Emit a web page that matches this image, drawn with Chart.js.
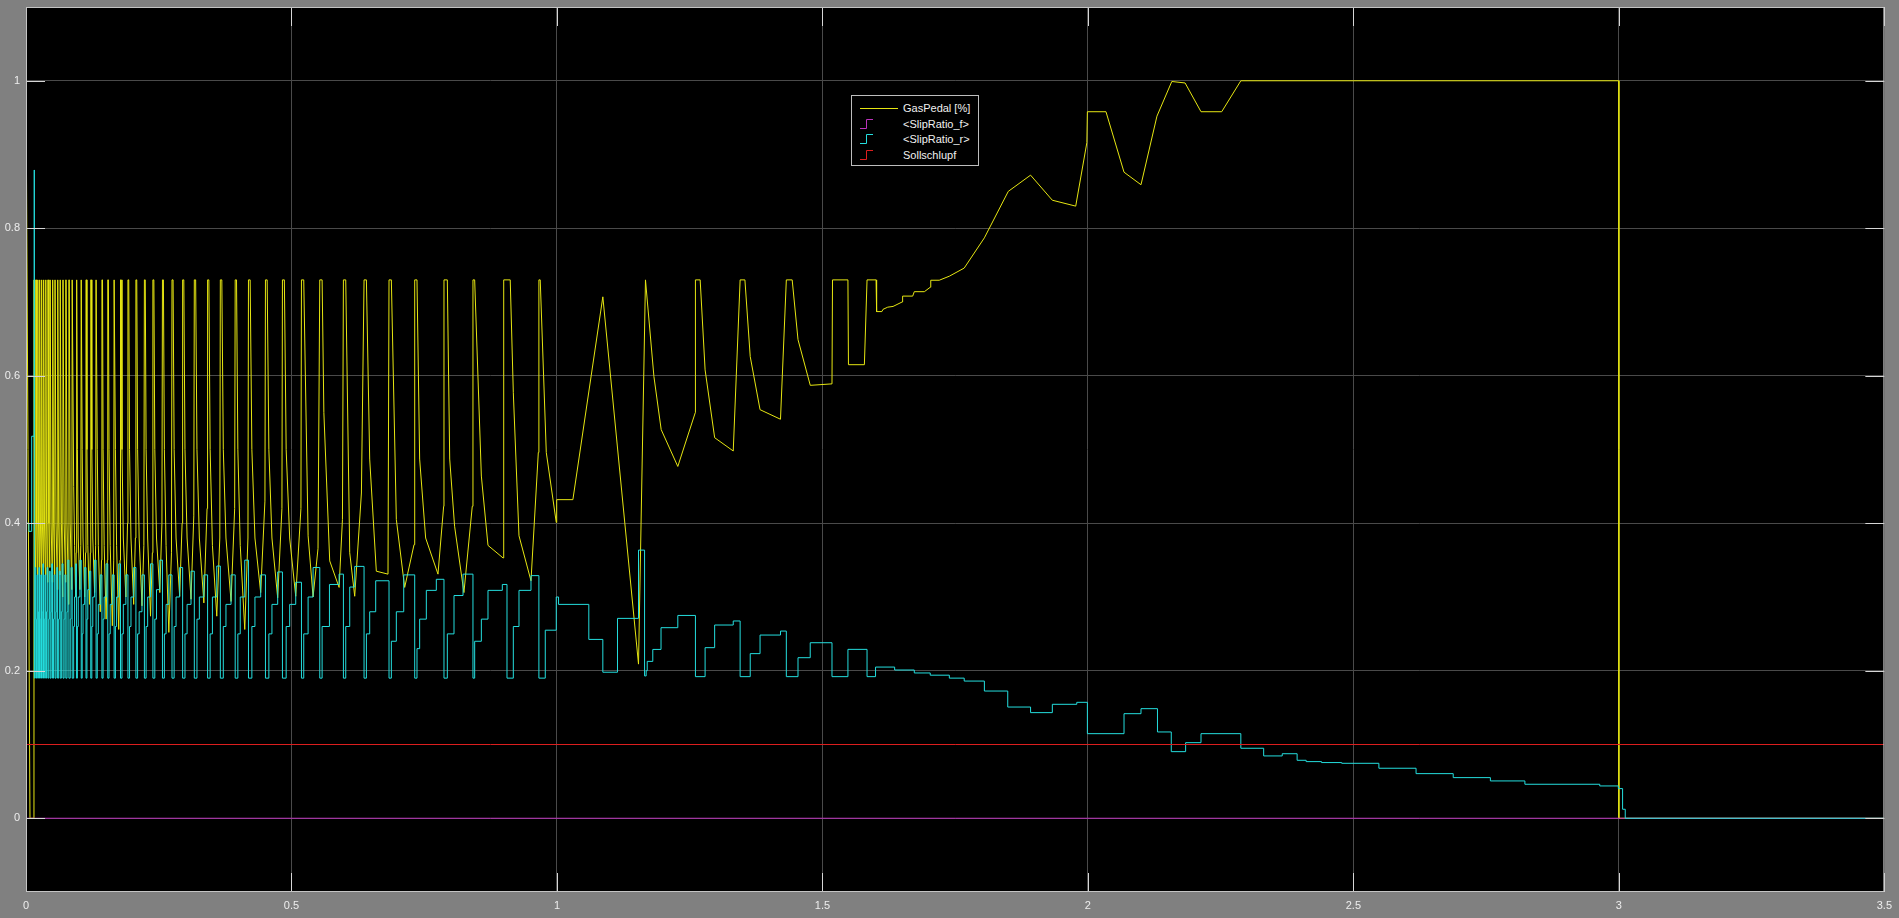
<!DOCTYPE html>
<html>
<head>
<meta charset="utf-8">
<title>Scope - GasPedal / SlipRatio</title>
<script src="https://cdn.jsdelivr.net/npm/chart.js@4.4.1/dist/chart.umd.min.js"></script>
<style>
  html, body { margin: 0; padding: 0; background: #808080; overflow: hidden; }
  #wrap { position: relative; width: 1899px; height: 918px; }
  #scopeChart { display: block; }
  #legend {
    position: absolute; left: 851px; top: 95px; width: 126px; height: 69px;
    background: #000; border: 1px solid #bdbdbd;
    font-family: "Liberation Sans", Arial, sans-serif; font-size: 11px; color: #f0f0f0;
  }
  #legend .row { position: absolute; left: 0; width: 126px; height: 14px; line-height: 14px; }
  #legend .row svg { position: absolute; left: 8px; top: 1px; }
  #legend .row span { position: absolute; left: 51px; top: 0; white-space: nowrap; }
</style>
</head>
<body>
<div id="wrap">
  <canvas id="scopeChart" width="1899" height="918"></canvas>
  <div id="legend"></div>
</div>
<script>
// achsen
const xTicks = [0, 0.5, 1, 1.5, 2, 2.5, 3, 3.5];
const yTicks = [0, 0.2, 0.4, 0.6, 0.8, 1];

const seriesNames  = ['GasPedal [%]', '<SlipRatio_f>', '<SlipRatio_r>', 'Sollschlupf'];
const seriesColors = ['#e6e612', '#bb33bb', '#24dede', '#dc1e1e'];

// GasPedal [t, wert]
const gasPedal = [
  [0,1],[0.0075,0],[0.0150,0],
  [0.0152,0.73],[0.0158,0.73],[0.0168,0.40],[0.0180,0.34],
  [0.0185,0.73],[0.0191,0.73],[0.0201,0.40],[0.0215,0.33],
  [0.0220,0.73],[0.0226,0.73],[0.0236,0.40],[0.0250,0.34],
  [0.0255,0.73],[0.0261,0.73],[0.0272,0.40],[0.0287,0.33],
  [0.0292,0.73],[0.0298,0.73],[0.0309,0.40],[0.0325,0.34],
  [0.0330,0.73],[0.0336,0.73],[0.0348,0.40],[0.0365,0.33],
  [0.0370,0.73],[0.0376,0.73],[0.0388,0.40],[0.0406,0.32],
  [0.0412,0.73],[0.0418,0.73],[0.0431,0.40],[0.0449,0.34],
  [0.0455,0.73],[0.0461,0.73],[0.0474,0.40],[0.0494,0.32],
  [0.0500,0.73],[0.0506,0.73],[0.0520,0.40],[0.0541,0.33],
  [0.0547,0.73],[0.0553,0.73],[0.0567,0.40],[0.0589,0.31],
  [0.0595,0.73],[0.0601,0.73],[0.0616,0.40],[0.0639,0.33],
  [0.0645,0.73],[0.0651,0.73],[0.0667,0.40],[0.0691,0.30],
  [0.0697,0.73],[0.0703,0.73],[0.0719,0.40],[0.0744,0.32],
  [0.0750,0.73],[0.0756,0.73],[0.0773,0.40],[0.0801,0.29],
  [0.0808,0.73],[0.0815,0.73],[0.0832,0.40],[0.0863,0.31],
  [0.0870,0.73],[0.0878,0.73],[0.0898,0.45],[0.0915,0.37],[0.0935,0.30],[0.0945,0.36],
  [0.095,0.73],[0.0959,0.73],[0.0968,0.5],[0.0984,0.38],[0.1015,0.31],[0.1032,0.37],
  [0.104,0.73],[0.1049,0.73],[0.1058,0.5],[0.1074,0.38],[0.1105,0.30],[0.1122,0.36],
  [0.113,0.73],[0.1139,0.73],[0.1148,0.5],[0.1164,0.37],[0.1195,0.29],[0.1212,0.36],
  [0.122,0.73],[0.123,0.73],[0.124,0.5],[0.1258,0.38],[0.1292,0.306],[0.1312,0.37],
  [0.132,0.73],[0.1331,0.73],[0.1342,0.5],[0.1362,0.37],[0.1399,0.28],[0.1422,0.35],
  [0.143,0.73],[0.1441,0.73],[0.1452,0.5],[0.1472,0.37],[0.1509,0.27],[0.1532,0.35],
  [0.154,0.73],[0.1552,0.73],[0.1564,0.5],[0.1586,0.37],[0.1626,0.261],[0.1652,0.35],
  [0.166,0.73],[0.1672,0.73],[0.1684,0.5],[0.1706,0.37],[0.1746,0.256],[0.1772,0.35],
  [0.178,0.73],[0.1794,0.73],[0.1808,0.5],[0.1833,0.38],[0.1881,0.30],[0.1912,0.40],
  [0.192,0.73],[0.1935,0.73],[0.1950,0.5],[0.1977,0.38],[0.2028,0.29],[0.2060,0.38],
  [0.207,0.73],[0.2086,0.73],[0.2102,0.5],[0.2131,0.38],[0.2185,0.288],[0.2220,0.37],
  [0.223,0.73],[0.2246,0.73],[0.2262,0.5],[0.2291,0.38],[0.2345,0.274],[0.2380,0.36],
  [0.239,0.73],[0.2408,0.73],[0.2426,0.5],[0.2458,0.38],[0.2520,0.306],[0.2560,0.40],
  [0.257,0.73],[0.2588,0.73],[0.2606,0.5],[0.2638,0.37],[0.2690,0.252],[0.2740,0.36],
  [0.275,0.73],[0.2770,0.73],[0.2790,0.5],[0.2826,0.38],[0.2894,0.301],[0.2940,0.40],
  [0.295,0.73],[0.2972,0.73],[0.2994,0.5],[0.3034,0.38],[0.3108,0.297],[0.3160,0.41],
  [0.317,0.73],[0.3195,0.73],[0.3220,0.5],[0.3265,0.38],[0.3350,0.292],[0.3410,0.42],
  [0.342,0.73],[0.3444,0.73],[0.3468,0.5],[0.3511,0.37],[0.3593,0.274],[0.3650,0.38],
  [0.366,0.73],[0.3688,0.73],[0.3716,0.5],[0.3766,0.38],[0.3862,0.294],[0.3930,0.42],
  [0.394,0.73],[0.3965,0.73],[0.3990,0.5],[0.4035,0.37],[0.4120,0.256],[0.4180,0.38],
  [0.419,0.73],[0.4222,0.73],[0.4254,0.5],[0.4312,0.38],[0.4420,0.306],[0.4500,0.43],
  [0.451,0.73],[0.4542,0.73],[0.4574,0.5],[0.4632,0.38],[0.4740,0.299],[0.4820,0.42],
  [0.483,0.73],[0.4866,0.73],[0.4900,0.5],[0.4966,0.38],[0.5080,0.301],[0.5178,0.42],
  [0.5188,0.73],[0.5231,0.73],[0.5313,0.383],[0.5407,0.30],[0.5500,0.366],
  [0.5533,0.73],[0.5577,0.73],[0.5610,0.55],[0.5720,0.349],[0.5897,0.313],[0.5960,0.405],
  [0.5978,0.73],[0.6022,0.73],[0.6097,0.360],[0.6191,0.301],[0.6317,0.441],
  [0.6367,0.73],[0.6411,0.73],[0.6473,0.487],[0.6598,0.335],[0.6818,0.331],
  [0.6837,0.73],[0.6881,0.73],[0.6975,0.405],[0.7132,0.313],[0.7308,0.371],
  [0.7321,0.73],[0.7364,0.73],[0.7414,0.487],[0.7527,0.380],[0.7759,0.331],[0.7866,0.423],
  [0.7872,0.73],[0.7935,0.73],[0.7980,0.487],[0.8072,0.396],[0.8248,0.306],[0.8405,0.423],
  [0.8418,0.73],[0.8450,0.73],[0.8576,0.464],[0.8701,0.370],[0.8984,0.353],
  [0.8997,0.73],[0.9120,0.73],[0.9178,0.577],[0.9285,0.383],[0.9511,0.322],[0.9649,0.496],
  [0.9660,0.73],[0.9685,0.73],[0.9799,0.496],[0.9987,0.401],[0.9995,0.432],[1.0300,0.432],
  [1.0864,0.707],[1.1536,0.209],[1.1667,0.73],[1.1826,0.599],[1.1963,0.527],[1.2276,0.477],[1.2605,0.550],
  [1.2608,0.73],[1.2697,0.73],[1.2790,0.608],[1.2970,0.516],[1.3320,0.498],
  [1.3450,0.73],[1.3540,0.73],[1.3640,0.626],[1.3825,0.554],[1.4210,0.541],
  [1.4320,0.73],[1.4430,0.73],[1.4540,0.649],[1.4771,0.587],[1.5180,0.589],
  [1.5190,0.73],[1.5480,0.73],[1.5490,0.615],[1.5790,0.615],
  [1.5840,0.73],[1.6010,0.73],[1.6020,0.687],[1.6120,0.687],[1.6140,0.690],[1.6230,0.693],
  [1.6330,0.694],[1.6500,0.700],[1.6510,0.708],[1.6700,0.708],[1.6730,0.714],[1.6920,0.714],
  [1.7030,0.720],[1.7040,0.7295],[1.7200,0.7295],[1.7390,0.735],[1.7670,0.746],[1.8050,0.787],
  [1.8500,0.850],[1.8920,0.872],[1.9330,0.838],[1.9770,0.830],[1.9980,0.916],[1.9990,0.958],
  [2.0340,0.958],[2.0680,0.876],[2.1000,0.859],[2.1300,0.952],[2.1580,0.999],[2.1830,0.997],
  [2.2130,0.958],[2.2520,0.958],[2.2880,1.0],[3.0,1.0],[3.0,0],[3.5,0]
];

// <SlipRatio_r> (treppe)
const slipRatioR = [
  [0,-0.3],[0.0003,0.40],[0.0055,0.389],[0.0107,0.518],[0.0155,0.879],
  [0.0157,0.19],[0.0166,0.27],[0.0174,0.34],
  [0.0185,0.19],[0.0199,0.27],[0.0208,0.33],
  [0.0220,0.19],[0.0234,0.28],[0.0243,0.34],
  [0.0255,0.19],[0.0270,0.27],[0.0279,0.33],
  [0.0292,0.19],[0.0307,0.28],[0.0317,0.345],
  [0.0330,0.19],[0.0346,0.27],[0.0356,0.33],
  [0.0370,0.19],[0.0387,0.28],[0.0397,0.34],
  [0.0412,0.19],[0.0429,0.27],[0.0440,0.335],
  [0.0455,0.19],[0.0473,0.28],[0.0484,0.345],
  [0.0500,0.19],[0.0519,0.27],[0.0531,0.33],
  [0.0547,0.19],[0.0566,0.28],[0.0578,0.34],
  [0.0595,0.19],[0.0615,0.27],[0.0628,0.335],
  [0.0645,0.19],[0.0666,0.28],[0.0679,0.345],
  [0.0697,0.19],[0.0718,0.27],[0.0731,0.33],
  [0.0750,0.19],[0.0773,0.28],[0.0788,0.35],
  [0.0808,0.19],[0.0833,0.27],[0.0848,0.34],
  [0.0870,0.19],[0.0898,0.26],[0.0915,0.30],[0.0935,0.345],
  [0.095,0.19],[0.0968,0.26],[0.0984,0.30],[0.1015,0.35],
  [0.104,0.19],[0.1058,0.25],[0.1074,0.29],[0.1105,0.34],
  [0.113,0.19],[0.1148,0.27],[0.1164,0.31],[0.1195,0.335],
  [0.122,0.19],[0.124,0.26],[0.1258,0.30],[0.1292,0.35],
  [0.132,0.19],[0.1342,0.25],[0.1362,0.29],[0.1399,0.33],
  [0.143,0.19],[0.1452,0.27],[0.1472,0.30],[0.1509,0.345],
  [0.154,0.19],[0.1564,0.25],[0.1586,0.29],[0.1626,0.33],
  [0.166,0.19],[0.1684,0.26],[0.1706,0.30],[0.1746,0.345],
  [0.178,0.19],[0.1808,0.25],[0.1833,0.29],[0.1881,0.33],
  [0.192,0.19],[0.195,0.26],[0.1977,0.30],[0.2028,0.34],
  [0.207,0.19],[0.2102,0.25],[0.2131,0.28],[0.2185,0.33],
  [0.223,0.19],[0.2262,0.26],[0.2291,0.30],[0.2345,0.345],
  [0.239,0.19],[0.2426,0.27],[0.2458,0.31],[0.2520,0.35],
  [0.257,0.19],[0.2606,0.25],[0.2638,0.29],[0.2690,0.33],
  [0.275,0.19],[0.2790,0.26],[0.2826,0.30],[0.2894,0.34],
  [0.295,0.19],[0.2994,0.25],[0.3034,0.29],[0.3108,0.335],
  [0.317,0.19],[0.3220,0.27],[0.3265,0.30],[0.3350,0.33],
  [0.342,0.19],[0.3468,0.25],[0.3511,0.30],[0.3593,0.342],
  [0.366,0.19],[0.3716,0.26],[0.3766,0.29],[0.3862,0.33],
  [0.394,0.19],[0.3990,0.25],[0.4035,0.30],[0.4120,0.35],
  [0.419,0.19],[0.4254,0.26],[0.4312,0.30],[0.4420,0.33],
  [0.451,0.19],[0.4574,0.25],[0.4632,0.29],[0.4740,0.334],
  [0.483,0.19],[0.4900,0.26],[0.4966,0.29],[0.5080,0.32],
  [0.5188,0.19],[0.5231,0.25],[0.5313,0.30],[0.5407,0.34],
  [0.5533,0.19],[0.5577,0.26],[0.5715,0.317],[0.5897,0.331],
  [0.5978,0.19],[0.6022,0.26],[0.6097,0.3135],[0.6191,0.3415],
  [0.6367,0.19],[0.6411,0.25],[0.6473,0.28],[0.6586,0.322],
  [0.6837,0.19],[0.6881,0.24],[0.6975,0.28],[0.7114,0.33],
  [0.7321,0.19],[0.7364,0.23],[0.7414,0.27],[0.7540,0.309],[0.7728,0.324],
  [0.7872,0.19],[0.7935,0.25],[0.8061,0.302],[0.8231,0.331],
  [0.8418,0.19],[0.8450,0.24],[0.8576,0.27],[0.8701,0.309],[0.8971,0.317],
  [0.9059,0.19],[0.9178,0.26],[0.9285,0.309],[0.9511,0.329],
  [0.9660,0.19],[0.9780,0.255],[0.9987,0.30],[1.0030,0.29],[1.0600,0.2425],[1.0864,0.198],
  [1.1140,0.271],[1.1536,0.3636],[1.1650,0.193],[1.1680,0.200],[1.1700,0.2127],[1.1805,0.2289],
  [1.1960,0.2584],[1.2276,0.275],[1.2608,0.192],[1.2790,0.2313],[1.2970,0.262],[1.3320,0.2675],
  [1.3450,0.192],[1.3640,0.2232],[1.3825,0.2484],[1.4210,0.2538],[1.4320,0.192],[1.4540,0.2177],
  [1.4770,0.238],[1.5180,0.192],[1.5480,0.229],[1.5840,0.192],[1.6000,0.205],[1.6360,0.201],
  [1.6730,0.197],[1.7030,0.194],[1.7390,0.190],[1.7670,0.186],[1.8050,0.1725],[1.8490,0.1508],
  [1.8920,0.1432],[1.9330,0.1545],[1.9790,0.1572],[1.9990,0.1147],[2.0680,0.1418],[2.1000,0.1486],
  [2.1310,0.117],[2.1570,0.0903],[2.1840,0.1025],[2.2130,0.1147],[2.2880,0.0949],[2.3310,0.0845],
  [2.3660,0.0875],[2.3940,0.0786],[2.4110,0.0768],[2.4400,0.0755],[2.4780,0.0745],[2.5480,0.0678],
  [2.6180,0.0605],[2.6880,0.0551],[2.7580,0.0506],[2.8230,0.0461],[2.9640,0.0438],[2.9990,0.0402],
  [3.0070,0.0122],[3.0120,0],[3.5,0]
];

const slipRatioF  = [[0,0],[3.5,0]];
const sollschlupf = [[0,0.1],[3.5,0.1]];

// schwarzer plotbereich + rahmen mit inneren ticks wie im Simulink scope
const scopeFrame = {
  id: 'scopeFrame',
  beforeDraw(chart) {
    const { ctx, chartArea: a } = chart;
    ctx.save();
    ctx.fillStyle = '#000';
    ctx.fillRect(a.left, a.top, a.right - a.left, a.bottom - a.top);
    ctx.restore();
  },
  afterDatasetsDraw(chart) {
    const { ctx, chartArea: a } = chart;
    const xs = chart.scales.x, ys = chart.scales.y;
    const len = 19;
    ctx.save();
    ctx.strokeStyle = '#d6d6d6';
    ctx.lineWidth = 1;
    ctx.beginPath();
    yTicks.forEach(v => {
      const y = Math.round(ys.getPixelForValue(v)) + 0.5;
      ctx.moveTo(a.left, y); ctx.lineTo(a.left + len, y);
      ctx.moveTo(a.right, y); ctx.lineTo(a.right - len, y);
    });
    xTicks.forEach(v => {
      const x = Math.round(xs.getPixelForValue(v)) + 0.5;
      ctx.moveTo(x, a.bottom); ctx.lineTo(x, a.bottom - len);
      ctx.moveTo(x, a.top); ctx.lineTo(x, a.top + len);
    });
    ctx.stroke();
    ctx.strokeStyle = '#c4c4c4';
    ctx.strokeRect(a.left + 0.5, a.top + 0.5, a.right - a.left - 1, a.bottom - a.top - 1);
    ctx.restore();
  }
};

const tickFont = { family: '"Liberation Sans", Arial, sans-serif', size: 11 };

new Chart(document.getElementById('scopeChart').getContext('2d'), {
  type: 'line',
  data: {
    datasets: [
      { label: seriesNames[0], data: gasPedal,    borderColor: seriesColors[0], order: 3 },
      { label: seriesNames[1], data: slipRatioF,  borderColor: seriesColors[1], stepped: 'before', order: 2 },
      { label: seriesNames[2], data: slipRatioR,  borderColor: seriesColors[2], stepped: 'before', order: 1 },
      { label: seriesNames[3], data: sollschlupf, borderColor: seriesColors[3], stepped: 'before', order: 0 }
    ]
  },
  options: {
    responsive: false,
    animation: false,
    devicePixelRatio: 1,
    events: [],
    layout: { padding: { left: 0, right: 14, top: 7, bottom: 0 } },
    elements: {
      point: { radius: 0, hoverRadius: 0 },
      line:  { borderWidth: 1, tension: 0, fill: false }
    },
    plugins: { legend: { display: false }, tooltip: { enabled: false } },
    scales: {
      x: {
        type: 'linear', min: 0, max: 3.5,
        afterBuildTicks: s => { s.ticks = xTicks.map(v => ({ value: v })); },
        afterFit: s => { s.height = 26; },
        border: { display: false },
        grid: { color: '#4a4a4a', lineWidth: 1, drawTicks: false },
        ticks: { color: '#ededed', font: tickFont, padding: 7, maxRotation: 0, autoSkip: false, callback: v => String(v) }
      },
      y: {
        type: 'linear', min: -0.1, max: 1.1,
        afterBuildTicks: s => { s.ticks = yTicks.map(v => ({ value: v })); },
        // keine extra label-polsterung oben/unten, sonst rutscht der plot runter
        afterFit: s => { s.width = 26; s.paddingTop = 0; s.paddingBottom = 0; },
        border: { display: false },
        grid: { color: '#4a4a4a', lineWidth: 1, drawTicks: false },
        ticks: { color: '#ededed', font: tickFont, padding: 6, autoSkip: false, callback: v => String(v) }
      }
    }
  },
  plugins: [scopeFrame]
});

// legende als html, mit linie / treppen-symbol
const legendBox = document.getElementById('legend');
seriesNames.forEach((name, i) => {
  const row = document.createElement('div');
  row.className = 'row';
  row.style.top = (5 + i * 15.5) + 'px';
  const c = seriesColors[i];
  row.innerHTML = i === 0
    ? `<svg width="40" height="12"><line x1="0" y1="6.5" x2="38" y2="6.5" stroke="${c}" stroke-width="1"/></svg>`
    : `<svg width="14" height="12"><polyline points="0,10.5 6.5,10.5 6.5,1.5 13,1.5" fill="none" stroke="${c}" stroke-width="1"/></svg>`;
  const label = document.createElement('span');
  label.textContent = name;
  row.appendChild(label);
  legendBox.appendChild(row);
});
</script>
</body>
</html>
